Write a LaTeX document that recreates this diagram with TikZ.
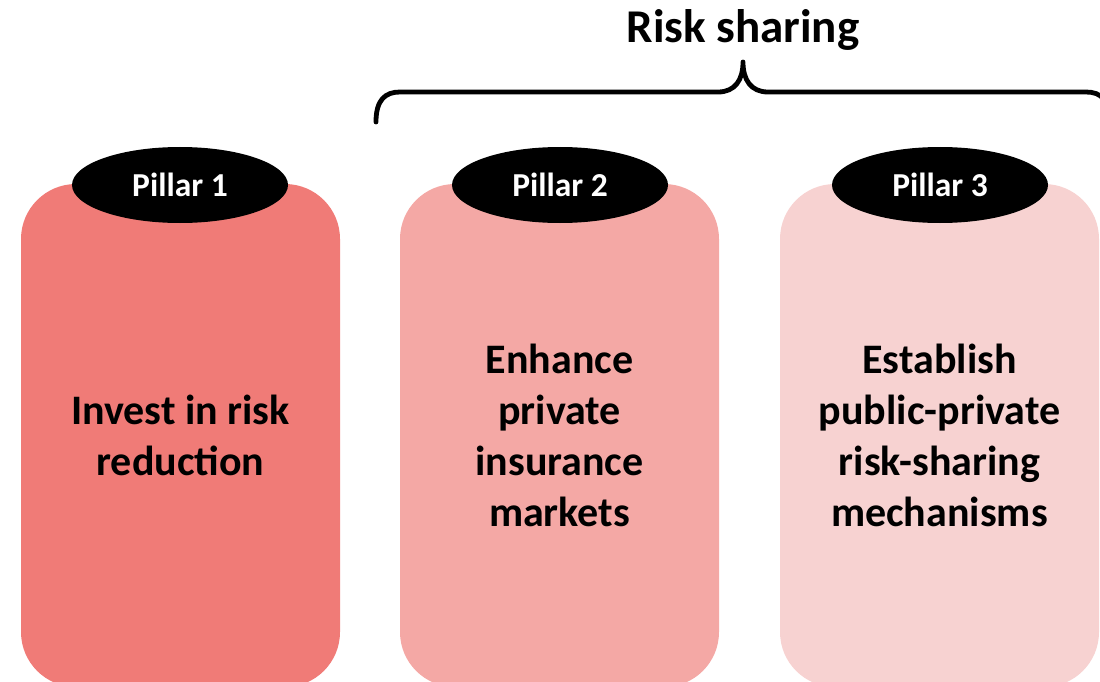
\documentclass[tikz,border=0pt]{standalone}
\usepackage{fontspec}
\setmainfont{Carlito}
\usetikzlibrary{shapes.geometric}
\definecolor{pone}{HTML}{F07B77}
\definecolor{ptwo}{HTML}{F4A8A5}
\definecolor{pthree}{HTML}{F7D2D1}
\tikzset{
  pillarbox/.style={draw=none, rounded corners=55pt, minimum width=319pt, minimum height=503pt,
    inner sep=0pt, align=center, font=\fontsize{42}{51}\selectfont\bfseries, text=black},
  pillartag/.style={ellipse, fill=black, minimum width=216pt, minimum height=76pt, inner sep=0pt,
    text=white, font=\fontsize{33.5}{40}\selectfont\bfseries},
  bracestyle/.style={line width=4.8pt, line cap=round, line join=round}
}
\begin{document}
\begin{tikzpicture}[x=1pt,y=-1pt]
\useasboundingbox (0,0) rectangle (1100,682);
\clip (0,0) rectangle (1100,682);
\node[pillarbox, fill=pone] (p1) at (180.5,435.5) {Invest in risk\\reduction};
\node[pillarbox, fill=ptwo] (p2) at (559.5,435.5) {Enhance\\private\\insurance\\markets};
\node[pillarbox, fill=pthree] (p3) at (939.5,435.5) {Establish\\public-private\\risk-sharing\\mechanisms};
\node[pillartag] (t1) at (180,185) {Pillar 1};
\node[pillartag] (t2) at (560,185) {Pillar 2};
\node[pillartag] (t3) at (940,185) {Pillar 3};
\node[anchor=base, font=\fontsize{47}{56}\selectfont\bfseries, inner sep=0pt] (title) at (743,43) {Risk sharing};
\draw[bracestyle] (376,122) .. controls (376,100) and (385,92) .. (400,92) -- (718,92)
  .. controls (735,92) and (743,80) .. (743,62)
  .. controls (743,80) and (751,92) .. (768,92) -- (1086,92)
  .. controls (1101,92) and (1110,100) .. (1110,122);
\end{tikzpicture}
\end{document}
